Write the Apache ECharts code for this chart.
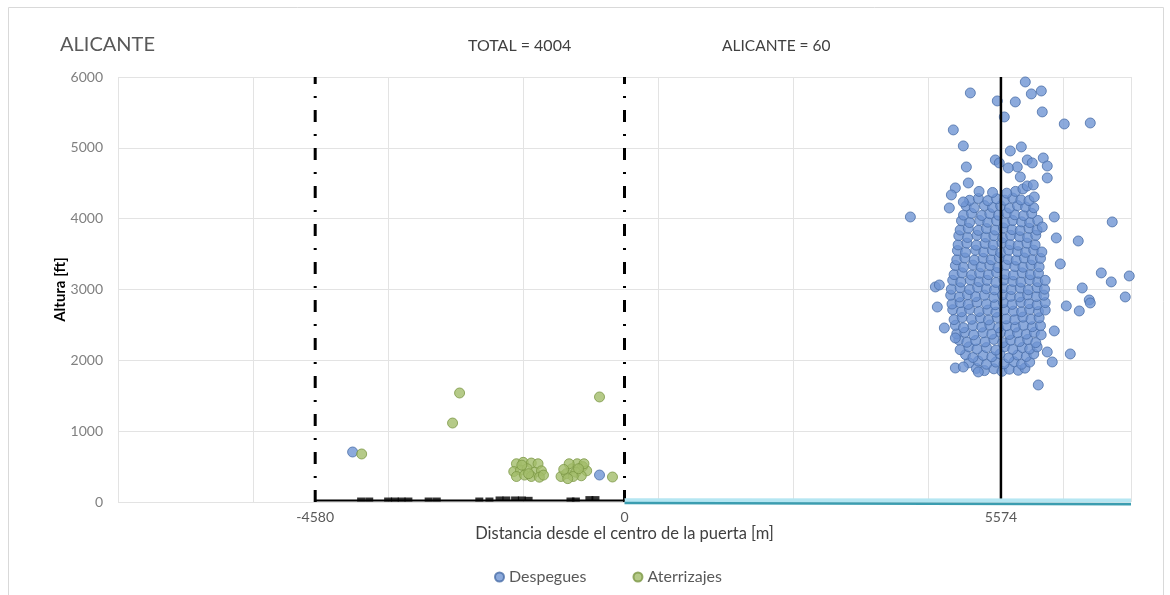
<!DOCTYPE html>
<html>
<head>
<meta charset="utf-8">
<script src="https://cdn.jsdelivr.net/npm/echarts@6/dist/echarts.min.js"></script>
<style>
  html, body { margin: 0; padding: 0; background: #fff; }
  #main { width: 1170px; height: 595px; }
</style>
</head>
<body>
<div id="main"></div>
<script>
// etiquetas del eje x (posiciones de puertas)
var xEtiquetas = [-4580, 0, 5574];

// despegues: nucleo denso alrededor de 5574 m
var despeguesNucleo = [
  [5210,1885],[5330,1855],[5470,1880],[5590,1845],[5700,1875],[5830,1860],[5930,1890],
  [5100,1965],[5240,1990],[5360,1945],[5500,1975],[5620,1950],[5770,1980],[5880,1945],[6000,1975],
  [5050,2080],[5160,2040],[5310,2070],[5440,2050],[5560,2090],[5690,2035],[5820,2075],[5950,2055],[6060,2090],
  [4970,2150],[5100,2190],[5220,2160],[5360,2180],[5500,2145],[5630,2190],[5750,2155],[5890,2180],[6000,2160],[6110,2190],
  [4950,2290],[5070,2255],[5200,2280],[5340,2260],[5470,2295],[5600,2250],[5720,2285],[5850,2265],[5970,2295],[6090,2250],
  [4920,2375],[5040,2395],[5170,2360],[5310,2390],[5440,2370],[5570,2395],[5700,2365],[5820,2390],[5950,2370],[6070,2395],[6170,2360],
  [4900,2495],[5020,2460],[5160,2490],[5290,2470],[5410,2500],[5540,2460],[5660,2490],[5790,2470],[5910,2495],[6040,2475],[6160,2490],
  [4880,2575],[5000,2605],[5140,2580],[5270,2600],[5390,2570],[5520,2605],[5650,2585],[5780,2575],[5900,2610],[6020,2580],[6140,2600],
  [4860,2715],[4990,2685],[5110,2720],[5250,2690],[5380,2710],[5500,2680],[5630,2715],[5760,2695],[5880,2685],[6000,2720],[6130,2690],[6230,2710],
  [4850,2795],[4970,2815],[5090,2790],[5220,2820],[5360,2795],[5490,2785],[5610,2815],[5740,2790],[5870,2820],[5990,2800],[6110,2785],[6230,2815],
  [4830,2920],[4960,2895],[5080,2925],[5200,2900],[5330,2920],[5470,2890],[5600,2925],[5720,2905],[5850,2895],[5970,2925],[6100,2900],[6210,2920],
  [4840,3005],[4970,3025],[5110,3000],[5230,3030],[5360,3010],[5480,2995],[5610,3025],[5730,3000],[5860,3020],[5980,2995],[6110,3025],[6220,3005],
  [4860,3130],[4980,3105],[5120,3135],[5250,3110],[5370,3130],[5500,3100],[5620,3135],[5750,3115],[5870,3105],[6000,3135],[6120,3110],[6230,3130],
  [4880,3210],[5000,3235],[5140,3205],[5260,3230],[5390,3210],[5510,3240],[5640,3215],[5760,3205],[5890,3235],[6010,3210],[6130,3230],
  [4900,3340],[5020,3315],[5160,3345],[5280,3320],[5410,3340],[5530,3310],[5650,3345],[5780,3325],[5900,3315],[6020,3345],[6140,3320],
  [4920,3420],[5040,3445],[5180,3415],[5310,3440],[5430,3420],[5550,3450],[5680,3425],[5800,3415],[5920,3445],[6040,3420],[6160,3440],
  [4930,3550],[5050,3525],[5200,3555],[5320,3530],[5450,3550],[5570,3520],[5690,3555],[5820,3535],[5940,3525],[6060,3555],[6180,3530],
  [4940,3630],[5070,3655],[5210,3625],[5340,3650],[5460,3630],[5590,3660],[5710,3635],[5830,3625],[5960,3655],[6080,3630],
  [4950,3760],[5080,3735],[5220,3765],[5350,3740],[5470,3760],[5600,3730],[5720,3765],[5850,3745],[5970,3735],[6090,3765],
  [4970,3840],[5090,3865],[5240,3835],[5360,3860],[5490,3840],[5610,3870],[5740,3845],[5860,3835],[5990,3865],[6110,3840],
  [4990,3970],[5110,3945],[5260,3975],[5380,3950],[5510,3970],[5630,3940],[5750,3975],[5880,3955],[6000,3945],[6120,3975],
  [5020,4050],[5140,4075],[5290,4045],[5410,4070],[5540,4050],[5660,4080],[5780,4055],[5910,4045],[6030,4075],
  [5060,4180],[5180,4155],[5330,4185],[5450,4160],[5570,4180],[5700,4150],[5820,4185],[5940,4165],[6060,4155],
  [5110,4260],[5240,4285],[5380,4255],[5510,4280],[5630,4260],[5750,4290],[5870,4265],[5990,4255],
  [5250,4385],[5790,4385],[5900,4420],[5450,4370],[5660,4360]
];

// despegues dispersos
var despeguesDispersos = [
  [5935,5930],[5121,5775],[6024,5761],[6172,5803],[5520,5662],[5787,5648],[6186,5507],[5624,5436],
  [6512,5337],[6897,5351],[4869,5253],[5017,5027],[5713,4956],[5876,5013],[5491,4829],[5550,4787],
  [5062,4730],[6201,4857],[6260,4744],[5964,4829],[6038,4787],[5816,4730],[5683,4716],[5091,4504],
  [6260,4575],[5861,4589],[5964,4462],[6053,4476],[4899,4434],[4840,4335],[5017,4236],[4810,4151],
  [4233,4024],[6068,4307],[6364,4024],[7222,3954],[6719,3685],[6394,3728],[6186,3883],[7060,3234],
  [7208,3107],[7474,3191],[7415,2895],[6778,3022],[6882,2852],[6897,2810],[6734,2697],[6542,2768],
  [6453,3361],[6364,2415],[6601,2090],[6260,2118],[6334,1977],[6127,1652],[4603,3036],[4662,3064],
  [4632,2753],[4736,2457],[4899,2316],[4899,1892],[5017,1906],[5239,1836],
  [-4026,706],[-370,381]
];

// aterrizajes
var aterrizajes = [
  [-3892,678],[-2442,1539],[-2546,1115],[-370,1483],[-178,353],
  [-1600,540],[-1500,560],[-1380,550],[-1280,540],[-1640,430],[-1540,450],[-1440,470],[-1330,420],
  [-1230,440],[-1600,360],[-1480,380],[-1380,360],[-1260,350],[-1200,380],[-1520,520],[-1420,400],
  [-940,360],[-860,400],[-780,470],[-700,540],[-620,500],[-560,440],[-820,540],[-720,420],
  [-640,370],[-900,460],[-760,360],[-600,540],[-680,470],[-840,330]
];

// perfil en tierra (negro) y pista (cian)
var perfilSuelo = [[-4580,20],[0,20]];
var bloquesSuelo = [
  [-3900,35],[-3780,35],[-3500,35],[-3400,35],[-3300,35],[-3200,35],[-2900,35],[-2780,35],
  [-2150,35],[-2000,35],[-1850,50],[-1750,50],[-1620,50],[-1520,50],[-1420,45],[-800,35],[-720,35],
  [-520,55],[-430,55]
];
var pistaClara = [[0,25],[7500,20]];
var pistaOscura = [[0,-15],[7500,-30]];

var puertaIzq = [[-4580,0],[-4580,6000]];
var puertaCentro = [[0,0],[0,6000]];
var puertaDer = [[5574,0],[5574,6000]];

var despegues = despeguesNucleo.concat(despeguesDispersos);

var fuente = 'Lato, "Open Sans", sans-serif';
var myChart = echarts.init(document.getElementById('main'));

var dashDot = [12, 12, 2, 12];
function sinComas(v) { return String(v); }

var option = {
  animation: false,
  textStyle: { fontFamily: fuente },
  title: [
    { text: 'ALICANTE', left: 55, top: 30, textStyle: { fontSize: 20, color: '#595959', fontWeight: 'normal', fontFamily: fuente } },
    { text: 'TOTAL = 4004', left: 463, top: 33, textStyle: { fontSize: 16, color: '#404040', fontWeight: 'normal', fontFamily: fuente } },
    { text: 'ALICANTE = 60', left: 717, top: 33, textStyle: { fontSize: 15.5, color: '#404040', fontWeight: 'normal', fontFamily: fuente } }
  ],
  graphic: [
    { type: 'rect', shape: { x: 8.5, y: 7.5, width: 1155, height: 600 }, style: { fill: 'none', stroke: '#d9d9d9', lineWidth: 1 }, silent: true }
  ],
  legend: {
    data: ['Despegues', 'Aterrizajes'],
    left: 489, top: 564,
    icon: 'circle', itemWidth: 9, itemHeight: 9, itemGap: 46,
    textStyle: { fontSize: 16, color: '#595959', fontFamily: fuente }
  },
  grid: { left: 118, right: 39, top: 77, bottom: 93 },
  xAxis: {
    type: 'value', min: -7500, max: 7500, interval: 2000,
    name: 'Distancia desde el centro de la puerta [m]', nameLocation: 'middle', nameGap: 23,
    nameMoveOverlap: false,
    nameTextStyle: { fontSize: 16.5, color: '#404040', fontFamily: fuente },
    axisLine: { show: false }, axisTick: { show: false },
    axisLabel: { customValues: xEtiquetas, formatter: sinComas, fontSize: 14, color: '#595959', margin: 8, fontFamily: fuente },
    splitLine: { show: true, lineStyle: { color: '#e3e3e3', width: 1 } }
  },
  yAxis: {
    type: 'value', min: 0, max: 6000, interval: 1000,
    name: 'Altura [ft]', nameLocation: 'middle', nameGap: 50,
    nameMoveOverlap: false,
    nameTextStyle: { fontSize: 15, color: '#000', fontWeight: 'bold', fontFamily: fuente },
    axisLine: { show: false }, axisTick: { show: false },
    axisLabel: { formatter: sinComas, fontSize: 14, color: '#808080', margin: 15, fontFamily: fuente },
    splitLine: { show: true, lineStyle: { color: '#e3e3e3', width: 1 } }
  },
  series: [
    { type: 'line', data: puertaDer, symbol: 'none', clip: false, silent: true, lineStyle: { color: '#000', width: 2.5 } },
    { type: 'line', data: puertaIzq, symbol: 'none', clip: false, silent: true, lineStyle: { color: '#000', width: 3, type: dashDot } },
    { type: 'line', data: puertaCentro, symbol: 'none', clip: false, silent: true, lineStyle: { color: '#000', width: 3, type: dashDot } },
    { type: 'line', data: pistaClara, symbol: 'none', clip: false, silent: true, lineStyle: { color: '#b5e6f2', width: 4 } },
    { type: 'line', data: pistaOscura, symbol: 'none', clip: false, silent: true, lineStyle: { color: '#3b9db0', width: 2.5 } },
    { type: 'line', data: perfilSuelo, symbol: 'none', clip: false, silent: true, lineStyle: { color: '#000', width: 2 } },
    { type: 'scatter', data: bloquesSuelo, symbol: 'rect', symbolSize: [8, 4], clip: false, silent: true, itemStyle: { color: '#000' } },
    {
      name: 'Despegues', type: 'scatter', data: despegues, symbolSize: 10,
      itemStyle: { color: '#6f95d3', borderColor: '#4a6ea8', borderWidth: 1 }
    },
    {
      name: 'Aterrizajes', type: 'scatter', data: aterrizajes, symbolSize: 10,
      itemStyle: { color: '#a3bd6a', borderColor: '#7c9745', borderWidth: 1 }
    }
  ]
};
myChart.setOption(option);
</script>
</body>
</html>
